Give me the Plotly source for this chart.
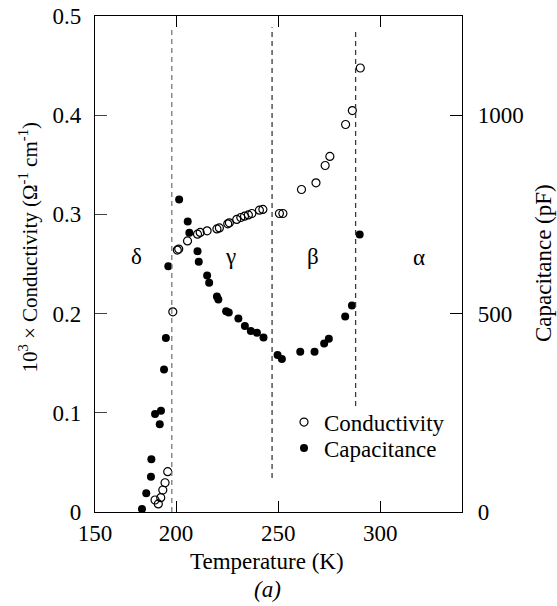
import plotly.graph_objects as go

# ---- data ----
cond_T = [290.2, 286.3, 283.0, 275.3, 273.0, 268.5, 261.4, 252.3, 250.6, 242.5,
          240.8, 237.1, 235.4, 233.5, 231.7, 229.7, 226.1, 225.3, 221.2, 220.0,
          215.2, 211.8, 210.5, 205.6, 201.3, 200.6, 198.4, 195.9, 194.6, 193.5,
          192.5, 191.3, 189.7]
cond_val = [0.4476, 0.4047, 0.3906, 0.3584, 0.3493, 0.3318, 0.3251, 0.3009, 0.3009, 0.3050,
            0.3043, 0.3009, 0.2995, 0.2982, 0.2969, 0.2949, 0.2915, 0.2905, 0.2864, 0.2854,
            0.2834, 0.2818, 0.2801, 0.2733, 0.2650, 0.2640, 0.2018, 0.0406, 0.0295, 0.0222,
            0.0144, 0.0081, 0.0121]

cap_T = [201.5, 205.7, 206.5, 210.5, 211.1, 215.2, 216.2, 220.0, 220.7, 224.5,
         225.8, 230.5, 233.7, 236.6, 239.6, 242.8, 249.7, 251.8, 260.8, 267.8,
         272.5, 274.8, 282.8, 286.1, 289.9, 196.2, 195.0, 194.1, 192.6, 189.7,
         192.0, 187.9, 187.7, 185.4, 183.3]
cap_val = [787.6, 732.2, 703.5, 657.4, 630.4, 596.2, 577.5, 543.3, 535.7, 506.2,
           503.0, 487.9, 468.5, 455.9, 451.6, 440.0, 395.4, 385.4, 403.7, 403.7,
           424.9, 436.5, 492.9, 520.6, 699.4, 619.6, 438.2, 359.4, 255.1, 246.8,
           220.9, 132.7, 88.9, 47.1, 7.6]

# phase boundaries (K) and their drawn extents on the conductivity axis
boundary_T = [197.9, 247.0, 287.9]
boundary_top = [0.4886, 0.4886, 0.4846]
boundary_bottom = [0.0, 0.0343, 0.1068]
boundary_color = ["#7a7a7a", "#3a3a3a", "#3a3a3a"]

phase_names = ["δ", "γ", "β", "α"]
phase_T = [180.4, 226.8, 266.8, 318.8]
phase_y = [0.2575, 0.2575, 0.2575, 0.2565]

x_tickvals = [160.3, 200, 250, 300]
x_ticktext = ["150", "200", "250", "300"]
y_tickvals = [0, 0.1, 0.2, 0.3, 0.4, 0.5]
y_ticktext = ["0", "0.1", "0.2", "0.3", "0.4", "0.5"]
y2_tickvals = [0, 500, 1000]

FONT = "Liberation Serif, Times New Roman, serif"

fig = go.Figure()
fig.add_trace(go.Scatter(
    x=cond_T, y=cond_val, mode="markers", name="Conductivity",
    marker=dict(symbol="circle-open", size=8, color="black", line=dict(width=1.2)),
    yaxis="y", legend="legend"))
fig.add_trace(go.Scatter(
    x=cap_T, y=cap_val, mode="markers", name="Capacitance",
    marker=dict(symbol="circle", size=8, color="black"),
    yaxis="y2", legend="legend2"))

for T, top, bot, col in zip(boundary_T, boundary_top, boundary_bottom, boundary_color):
    fig.add_shape(type="line", xref="x", yref="y", x0=T, x1=T, y0=bot, y1=top,
                  line=dict(color=col, width=1.3, dash="5px,4px"))

for name, T, yv in zip(phase_names, phase_T, phase_y):
    fig.add_annotation(x=T, y=yv, xref="x", yref="y", text=name, showarrow=False,
                       font=dict(size=23, color="black", family=FONT),
                       xanchor="center", yanchor="middle")

fig.add_annotation(x=0.469, y=-0.1007, xref="paper", yref="paper",
                   text="Temperature (K)", showarrow=False,
                   font=dict(size=23, color="black", family=FONT),
                   xanchor="center", yanchor="middle")
fig.add_annotation(x=0.469, y=-0.157, xref="paper", yref="paper",
                   text="<i>(a)</i>", showarrow=False,
                   font=dict(size=23, color="black", family=FONT),
                   xanchor="center", yanchor="middle")
fig.add_annotation(x=-0.18, y=0.535, xref="paper", yref="paper",
                   text="10<sup>3</sup> × Conductivity (Ω<sup>-1</sup> cm<sup>-1</sup>)",
                   showarrow=False, textangle=-90,
                   font=dict(size=21, color="black", family=FONT),
                   xanchor="center", yanchor="middle")
fig.add_annotation(x=1.2217, y=0.5027, xref="paper", yref="paper",
                   text="Capacitance (pF)", showarrow=False, textangle=-90,
                   font=dict(size=23, color="black", family=FONT),
                   xanchor="center", yanchor="middle")

legend_common = dict(xanchor="left", yanchor="middle", bgcolor="rgba(0,0,0,0)",
                     borderwidth=0, font=dict(size=23, family=FONT, color="black"),
                     itemclick=False, itemdoubleclick=False)

fig.update_layout(
    width=557, height=606,
    margin=dict(l=95, r=95.3, t=15.7, b=94, pad=0, autoexpand=False),
    paper_bgcolor="white", plot_bgcolor="white",
    font=dict(family=FONT, size=23, color="black"),
    showlegend=True,
    legend=dict(x=0.515, y=0.1813, **legend_common),
    legend2=dict(x=0.515, y=0.1289, **legend_common),
    xaxis=dict(range=[160.3, 340], tickvals=x_tickvals, ticktext=x_ticktext,
               showgrid=False, zeroline=False, showline=True, linecolor="black",
               linewidth=1.2, mirror="ticks", ticks="inside", ticklen=11,
               tickcolor="black", tickwidth=1.2, ticklabelstandoff=0, automargin=False),
    yaxis=dict(range=[0, 0.5], tickvals=y_tickvals, ticktext=y_ticktext,
               showgrid=False, zeroline=False, showline=True, linecolor="black",
               linewidth=1.2, ticks="inside", ticklen=12, tickcolor="#444",
               tickwidth=1.2, ticklabelstandoff=8, automargin=False),
    yaxis2=dict(range=[0, 1250], tickvals=y2_tickvals, overlaying="y", side="right",
                showgrid=False, zeroline=False, showline=True, linecolor="black",
                linewidth=1.2, ticks="inside", ticklen=12, tickcolor="black",
                tickwidth=1.2, ticklabelstandoff=10, automargin=False),
)

fig.write_html("out.html")
